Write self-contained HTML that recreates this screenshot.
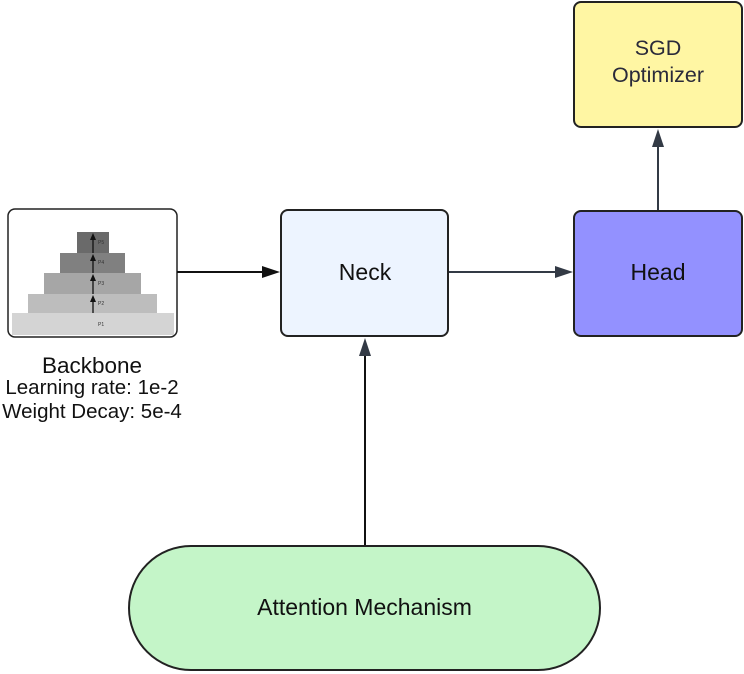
<!DOCTYPE html>
<html><head><meta charset="utf-8"><style>
html,body{margin:0;padding:0;background:#fff;}
svg{display:block;font-family:"Liberation Sans",sans-serif;}
</style></head><body>
<svg width="744" height="674" viewBox="0 0 744 674" xmlns="http://www.w3.org/2000/svg">
<!-- Backbone image -->
<rect x="8" y="209" width="169" height="128" rx="7" fill="#fff" stroke="#222" stroke-width="1.5"/>
<rect x="12" y="313" width="162" height="22" fill="#d4d4d4"/>
<rect x="28" y="294" width="129" height="19" fill="#bdbdbd"/>
<rect x="44" y="273" width="97" height="21" fill="#a6a6a6"/>
<rect x="60" y="253" width="65" height="20" fill="#808080"/>
<rect x="77" y="232" width="32" height="21" fill="#6a6a6a"/>
<g stroke="#111" stroke-width="1.3">
<line x1="93" y1="313" x2="93" y2="300"/><line x1="93" y1="294" x2="93" y2="280"/>
<line x1="93" y1="273" x2="93" y2="259"/><line x1="93" y1="253" x2="93" y2="238"/>
</g>
<g fill="#111">
<path d="M90,302 L93,295 L96,302Z"/><path d="M90,281 L93,274 L96,281Z"/>
<path d="M90,261 L93,254 L96,261Z"/><path d="M90,240 L93,233 L96,240Z"/>
</g>
<g font-size="5" fill="#333">
<text x="98" y="326">P1</text><text x="98" y="305">P2</text><text x="98" y="285">P3</text><text x="98" y="264">P4</text><text x="98" y="244">P5</text>
</g>
<text x="92" y="373" font-size="22.5" text-anchor="middle" fill="#111">Backbone</text>
<text x="92" y="394" font-size="20.5" text-anchor="middle" fill="#111">Learning rate: 1e-2</text>
<text x="92" y="418" font-size="20.5" text-anchor="middle" fill="#111">Weight Decay: 5e-4</text>
<!-- Neck -->
<rect x="281" y="210" width="167" height="126" rx="7" fill="#edf4ff" stroke="#222" stroke-width="2"/>
<text x="365" y="280" font-size="23" text-anchor="middle" fill="#111">Neck</text>
<!-- Head -->
<rect x="574" y="211" width="168" height="125" rx="7" fill="#9391ff" stroke="#222" stroke-width="2"/>
<text x="658" y="280" font-size="23" text-anchor="middle" fill="#111">Head</text>
<!-- SGD -->
<rect x="574" y="2" width="168" height="125" rx="7" fill="#fff6a3" stroke="#222" stroke-width="2"/>
<text x="658" y="55" font-size="21.5" text-anchor="middle" fill="#2a2a3a">SGD</text>
<text x="658" y="82" font-size="21.5" text-anchor="middle" fill="#2a2a3a">Optimizer</text>
<!-- Attention -->
<rect x="129" y="546" width="471" height="124" rx="62" fill="#c4f5c8" stroke="#222" stroke-width="2"/>
<text x="364.5" y="615" font-size="23" text-anchor="middle" fill="#111">Attention Mechanism</text>
<!-- connectors -->
<g stroke-width="2" fill="none">
<line x1="177" y1="272" x2="264" y2="272" stroke="#111"/>
<line x1="449" y1="272" x2="557" y2="272" stroke="#333a45"/>
<line x1="658" y1="210" x2="658" y2="145" stroke="#333a45"/>
<line x1="365" y1="545" x2="365" y2="354" stroke="#111"/>
</g>
<path d="M280,272 L262,266 L262,278Z" fill="#111"/>
<path d="M573,272 L555,266 L555,278Z" fill="#333a45"/>
<path d="M658,129 L652,147 L664,147Z" fill="#333a45"/>
<path d="M365,338 L359,356 L371,356Z" fill="#333a45"/>
</svg>
</body></html>
